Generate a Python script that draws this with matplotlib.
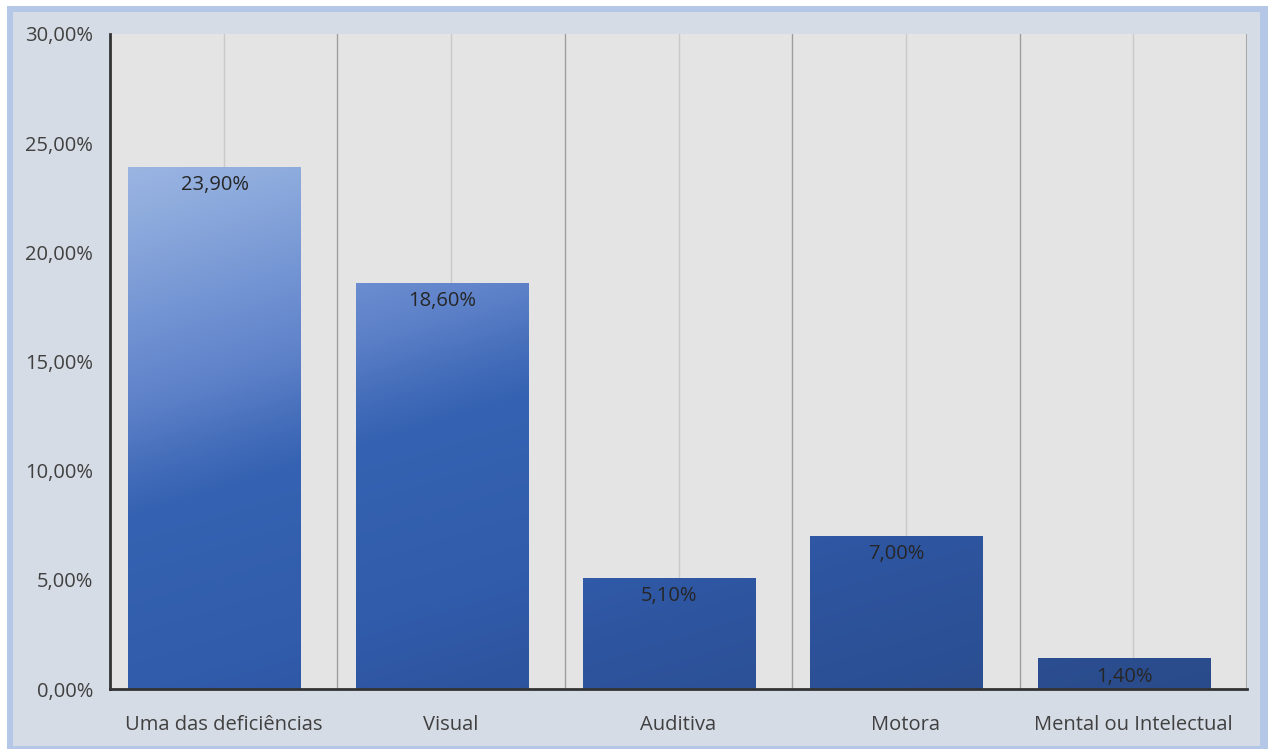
import numpy as np
import matplotlib
matplotlib.use("Agg")
import matplotlib.pyplot as plt
from matplotlib.colors import to_rgb
from matplotlib.patches import Rectangle

plt.rcParams['font.family'] = ['Open Sans', 'DejaVu Sans']

categories = ["Uma das deficiências", "Visual", "Auditiva", "Motora", "Mental ou Intelectual"]
values = [23.90, 18.60, 5.10, 7.00, 1.40]
value_labels = ["23,90%", "18,60%", "5,10%", "7,00%", "1,40%"]
y_ticks = [0, 5, 10, 15, 20, 25, 30]
y_tick_labels = ["0,00%", "5,00%", "10,00%", "15,00%", "20,00%", "25,00%", "30,00%"]

W, H = 1272, 751
fig = plt.figure(figsize=(W / 100, H / 100), dpi=100, facecolor="white")

# outer frame
fig.patches.append(Rectangle((7 / W, 2 / H), 1261 / W, 743 / H, transform=fig.transFigure,
                             facecolor="#b4c7e7", edgecolor="none", zorder=-2))
fig.patches.append(Rectangle((13 / W, 5 / H), 1247 / W, 734 / H, transform=fig.transFigure,
                             facecolor="#d6dce5", edgecolor="none", zorder=-1))

ax = fig.add_axes([110 / W, 62 / H, 1137 / W, 655 / H])
ax.set_facecolor("#e4e4e4")

n = len(categories)
x = np.arange(n)
bar_w = 0.76
shift = -0.04

# gridlines: lighter ones at category centres, darker at boundaries
for xc in x:
    ax.axvline(xc, color="#c9c9c9", lw=1.0, zorder=1)
for xb in np.arange(n - 1) + 0.5:
    ax.axvline(xb, color="#9e9e9e", lw=1.0, zorder=1)
ax.axvline(n - 0.5, color="#a8a8a8", lw=1.5, zorder=1)

bars = ax.bar(x + shift, values, width=bar_w, color="none", edgecolor="none", zorder=2)

# diagonal gradient shared by all bars (light top-left -> dark bottom-right)
stops_s = [-14, -3, 1, 9.3, 12, 14, 17, 22.7, 26]
stops_c = ["#2a4b8a", "#2e55a0", "#315cab", "#3562b2", "#4a72bd", "#5c80c8",
           "#6d8fd1", "#8eabdd", "#9fb8e4"]
stops_rgb = np.array([to_rgb(c) for c in stops_c])
ny, nx = 400, 500
Y, X = np.meshgrid(np.linspace(0, 26, ny), np.linspace(-0.5, n - 0.5, nx), indexing="ij")
S = Y - 3.2 * X
rgb = np.stack([np.interp(S, stops_s, stops_rgb[:, k]) for k in range(3)], axis=-1)
for b in bars:
    im = ax.imshow(rgb, extent=(-0.5, n - 0.5, 0, 26), origin="lower", aspect="auto",
                   interpolation="bilinear", zorder=2)
    im.set_clip_path(b)
ax.set_xlim(-0.5, n - 0.5)
ax.set_ylim(0, 30)

for xi, v, lab in zip(x + shift, values, value_labels):
    ax.text(xi, v - 0.38, lab, ha="center", va="top", fontsize=14.5, color="#262626", zorder=3)

ax.set_yticks(y_ticks)
ax.set_yticklabels(y_tick_labels, fontsize=14.5, color="#404040", va="center_baseline")
ax.set_xticks(x)
ax.set_xticklabels(categories, fontsize=14.5, color="#404040")
ax.tick_params(length=0)
ax.tick_params(axis="y", pad=12)
ax.tick_params(axis="x", pad=19)

for side in ["top", "right"]:
    ax.spines[side].set_visible(False)
ax.spines["left"].set_color("#333333")
ax.spines["left"].set_linewidth(2)
ax.spines["bottom"].set_color("#333333")
ax.spines["bottom"].set_linewidth(2)

fig.savefig("out.png", dpi=100, facecolor=fig.get_facecolor())
